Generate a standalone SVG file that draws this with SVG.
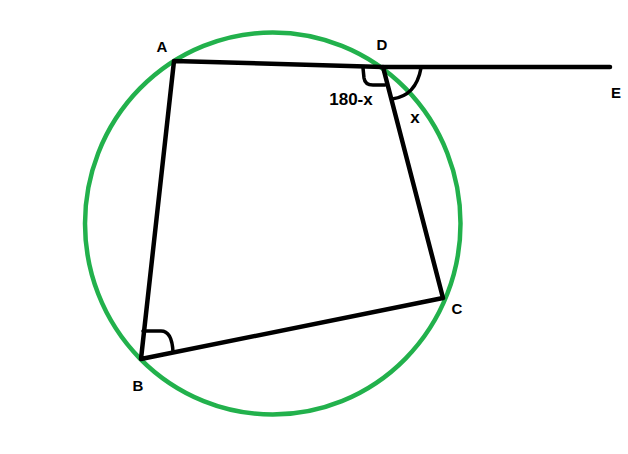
<svg xmlns="http://www.w3.org/2000/svg" width="628" height="454" viewBox="0 0 628 454">
<style>
.ln{fill:none;stroke:#000;stroke-width:4.5;stroke-linecap:round;stroke-linejoin:round}
.mk{fill:none;stroke:#000;stroke-width:3.5;stroke-linecap:round;stroke-linejoin:round}
.lb{font-family:"Liberation Sans",Arial,sans-serif;font-weight:bold;font-size:15px;fill:#000}
</style>
<rect width="628" height="454" fill="#fff"/>
<g id="circle"><ellipse cx="272.75" cy="223.5" rx="187.75" ry="191" fill="none" stroke="#22b14c" stroke-width="4.5"/></g>
<g id="connectors">
<path class="ln" d="M174 61 L383 67 L443 298 L141 359 Z"/>
<path class="ln" d="M383 67 L610 67"/>
<path class="mk" d="M363 68 L364 78 Q365 85 373 85 L385 85"/>
<path class="mk" d="M421 68 Q416 96 392 99"/>
<path class="mk" d="M143 331 L161 331 Q172 331 173 352"/>
</g>
<g id="A"><text class="lb" x="162" y="52" text-anchor="middle">A</text></g>
<g id="B"><text class="lb" x="138" y="391" text-anchor="middle">B</text></g>
<g id="C"><text class="lb" x="457" y="314" text-anchor="middle">C</text></g>
<g id="D"><text class="lb" x="382" y="50" text-anchor="middle">D</text></g>
<g id="E"><text class="lb" x="616" y="98" text-anchor="middle">E</text></g>
<g id="lbl180"><text class="lb" x="351" y="105" text-anchor="middle" style="font-size:17px">180-x</text></g>
<g id="lblx"><text class="lb" x="415" y="123" text-anchor="middle" style="font-size:17px">x</text></g>
</svg>
